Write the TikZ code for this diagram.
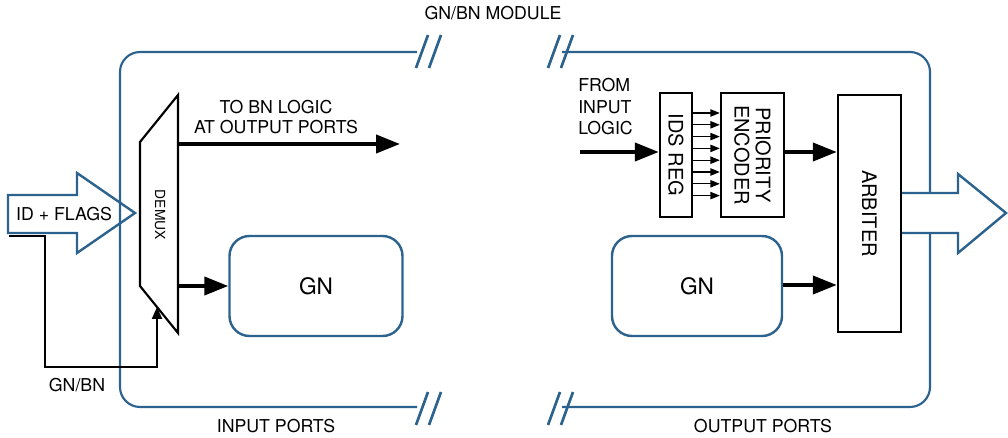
\documentclass[tikz,border=0pt]{standalone}
\usepackage{fontspec}
\setmainfont{TeX Gyre Heros}
\usetikzlibrary{arrows.meta}
\definecolor{modblue}{RGB}{43,98,142}
\tikzset{
  modline/.style={draw=modblue,line width=1.6pt},
  gnbox/.style={draw=modblue,line width=1.8pt,rounded corners=15pt,minimum width=129.75pt,minimum height=75pt,font=\fontsize{17}{20}\selectfont,inner sep=0pt},
  blkbox/.style={draw=black,line width=1.8pt,inner sep=0pt},
  bigarrow/.style={line width=3pt,-{Triangle[length=18pt,width=13.5pt]}},
  tinyarrow/.style={line width=0.8pt,-{Triangle[length=7pt,width=5.5pt]}},
  midarrow/.style={line width=1.5pt,-{Triangle[length=9pt,width=7.5pt]}},
  lbl/.style={font=\fontsize{13.3}{16}\selectfont,inner sep=0pt},
  vlbl/.style={font=\fontsize{15}{18}\selectfont,rotate=-90,inner sep=0pt,align=center},
  slash/.style={draw=modblue,line width=2pt}
}
\begin{document}
\begin{tikzpicture}[x=0.75pt,y=-0.75pt]
\useasboundingbox (0,0) rectangle (1008,438);
% module outlines
\draw[modline,rounded corners=15pt] (417,52) -- (120,52) -- (120,407) -- (417,407);
\draw[modline,rounded corners=15pt] (562,52) -- (930,52) -- (930,407) -- (562,407);
% break marks
\foreach \dx in {0,13}{
  \draw[slash] (416+\dx,68) -- (428+\dx,35);
  \draw[slash] (416+\dx,425) -- (428+\dx,392);
  \draw[slash] (548+\dx,68) -- (560+\dx,35);
  \draw[slash] (548+\dx,425) -- (560+\dx,392);
}
% labels
\node[lbl] (title) at (493,13) {GN/BN MODULE};
\node[lbl] (inports) at (276,426) {INPUT PORTS};
\node[lbl] (outports) at (763,426) {OUTPUT PORTS};

% ID + FLAGS arrow
\draw[modline,line width=1.8pt,line join=miter] (8,195) -- (77,195) -- (77,173) -- (135,213) -- (77,253) -- (77,233) -- (8,233) -- cycle;
\node[lbl] (idflags) at (64,214) {ID + FLAGS};

% DEMUX
\coordinate (dTL) at (140,142);
\coordinate (dTR) at (178,95);
\coordinate (dBR) at (178,333);
\coordinate (dBL) at (140,286);
\draw[line width=1.6pt,line join=miter] (dTL) -- (dTR) -- (dBR) -- (dBL) -- cycle;
\node[font=\fontsize{10.4}{12}\selectfont,rotate=-90,inner sep=0pt] (demux) at (160,215) {DEMUX};

% GN/BN select line
\coordinate (selA) at (9,236);
\coordinate (selB) at (157,307);
\node[lbl] (gnbnlbl) at (77,385) {GN/BN};
\draw[midarrow] (selA) -- (45,236) -- (45,367) -- (157,367) -- (selB);

% demux outputs
\coordinate (toBN) at (400,144);
\draw[bigarrow] (dTR |- toBN) -- (toBN);
\node[lbl,align=center] (tobnlbl) at (276,117) {TO BN LOGIC\\[-1.5pt]AT OUTPUT PORTS};

\node[gnbox] (gnL) at (316,286) {GN};
\draw[bigarrow] (dBR |- gnL.west) -- (gnL.west);

% right side
\node[gnbox,minimum width=127.5pt] (gnR) at (697,286) {GN};
\node[blkbox,minimum width=24pt,minimum height=93pt] (ids) at (676,155) {};
\node[vlbl] at (ids.center) {IDS REG};
\node[blkbox,minimum width=47.25pt,minimum height=93pt] (enc) at (752.5,155) {};
\node[vlbl] at (enc.center) {PRIORITY\\[-2pt]ENCODER};
\node[blkbox,minimum width=47.25pt,minimum height=177.75pt] (arb) at (869.5,213.5) {};
\node[vlbl] at (arb.center) {ARBITER};

\node[align=left,anchor=north west,inner sep=0pt,font=\fontsize{13.3}{16.2}\selectfont] (fromlbl) at (578,78) {FROM\\INPUT\\LOGIC};
\coordinate (fromIn) at (580,152);
\draw[bigarrow] (fromIn) -- (fromIn -| ids.west);

\foreach \yy in {113,124.8,136.6,148.4,160.2,172,183.8,195.6}{
  \draw[tinyarrow] (ids.east |- 0,\yy) -- (enc.west |- 0,\yy);
}
\draw[bigarrow] (enc.east |- 0,152) -- (arb.west |- 0,152);
\draw[bigarrow] (gnR.east |- 0,285) -- (arb.west |- 0,285);

% output arrow
\draw[draw=modblue,fill=white,line width=1.8pt,line join=miter] (arb.east |- 0,193) -- (958,193) -- (958,174) -- (1006,213) -- (958,253) -- (958,233) -- (arb.east |- 0,233);
\end{tikzpicture}
\end{document}
